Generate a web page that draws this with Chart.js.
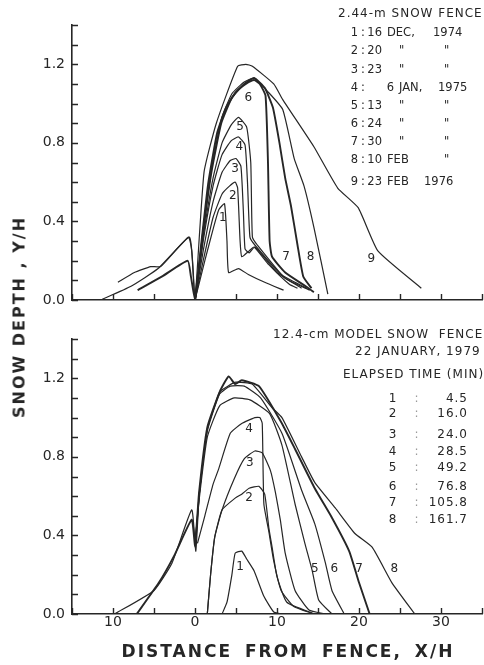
<!DOCTYPE html>
<html>
<head>
<meta charset="utf-8">
<script src="https://cdn.jsdelivr.net/npm/chart.js@4.4.1/dist/chart.umd.min.js"></script>
<style>
html, body { margin: 0; padding: 0; background: #fff; }
#page { position: relative; width: 484px; height: 665px; overflow: hidden; background: #fff; }
canvas { position: absolute; left: 0; }
#cTop { top: 0; }
#cBot { top: 320px; }
#ytitle { position: absolute; left: 19px; top: 317px; transform: translate(-50%, -50%) rotate(-90deg);
  font: bold 16px "DejaVu Sans"; letter-spacing: 2px; color: #262626; white-space: nowrap; }
#xtitle { position: absolute; left: 288px; top: 651px; transform: translate(-50%, -50%);
  font: bold 17px "DejaVu Sans"; letter-spacing: 2px; word-spacing: 5px; color: #262626; white-space: nowrap; }
</style>
</head>
<body>
<div id="page">
  <canvas id="cTop" width="484" height="320"></canvas>
  <canvas id="cBot" width="484" height="345"></canvas>
  <div id="ytitle">SNOW DEPTH , Y/H</div>
  <div id="xtitle">DISTANCE FROM FENCE, X/H</div>
</div>
<script>
// ---- données : [X/H, Y/H] ----
// 2.44-m snow fence (panneau du haut)
const top1 = [[0,0],[1.2,0.2],[2.2,0.36],[2.9,0.46],[3.6,0.49],[3.9,0.3],[4.1,0.14],[5.3,0.16],[6.5,0.13],[8.5,0.09],[10.8,0.05]];
const top2 = [[0,0],[1,0.2],[2.2,0.42],[3.3,0.54],[4.2,0.58],[4.9,0.6],[5.2,0.57],[5.5,0.3],[5.7,0.22],[6.6,0.25],[7.2,0.27],[9,0.18],[11.5,0.08],[12.5,0.06]];
const top3 = [[0,0],[1,0.25],[2.2,0.5],[3.3,0.65],[4.3,0.71],[5.0,0.72],[5.6,0.68],[5.9,0.45],[6.1,0.26],[6.6,0.24],[7.3,0.27],[10,0.14],[13,0.06]];
const top4 = [[0,0],[1,0.3],[2.2,0.58],[3.3,0.74],[4.4,0.81],[5.3,0.83],[6.1,0.79],[6.4,0.6],[6.7,0.32],[7.3,0.28],[10.5,0.13],[13.6,0.06]];
const top5 = [[0,0],[1,0.32],[2.2,0.62],[3.3,0.8],[4.4,0.89],[5.3,0.93],[6.3,0.88],[6.8,0.7],[7.0,0.32],[7.6,0.28],[11,0.11],[14,0.05]];
const top6 = [[0,0],[0.8,0.3],[1.6,0.59],[2.7,0.85],[3.8,0.98],[5,1.06],[6.2,1.1],[7.2,1.12],[7.9,1.1],[8.6,1.04],[8.9,0.7],[9.1,0.3],[9.4,0.22],[11,0.14],[13.5,0.07],[14.5,0.04]];
const top7 = [[-7,0.05],[-4,0.12],[-0.9,0.2],[-0.5,0.12],[0,0],[1,0.35],[2,0.65],[3.2,0.9],[4.5,1.03],[6,1.1],[7.2,1.13],[8.5,1.08],[9.5,0.98],[10.3,0.8],[11,0.62],[11.7,0.48],[12.5,0.28],[13.2,0.12],[14.2,0.06]];
const top8 = [[-9.4,0.09],[-7.4,0.14],[-5.4,0.17],[-4.2,0.17],[-0.8,0.32],[-0.4,0.25],[0,0],[1,0.36],[2,0.66],[3.2,0.92],[4.5,1.05],[6,1.11],[7.2,1.13],[8.9,1.06],[10.7,0.97],[12.1,0.72],[13.3,0.58],[14.5,0.37],[16.2,0.03]];
const top9 = [[-11.5,0],[-7.8,0.07],[-4.5,0.16],[-0.7,0.32],[-0.3,0.2],[0,0],[1.1,0.65],[2.6,0.9],[5.2,1.19],[6.2,1.2],[7,1.19],[9.6,1.1],[10.7,1.02],[14.5,0.78],[17.4,0.57],[19.9,0.47],[22.3,0.25],[27.6,0.06]];

// 12.4-cm model snow fence (panneau du bas)
const bot1 = [[3.3,0],[3.9,0.06],[4.5,0.2],[4.9,0.31],[5.7,0.32],[6.3,0.28],[7.2,0.22],[8.4,0.09],[9.6,0.01],[10.5,0]];
const bot2 = [[1.5,0],[1.9,0.2],[2.4,0.39],[3.3,0.53],[4.9,0.59],[5.7,0.61],[6.6,0.64],[7.8,0.65],[8.5,0.61],[9,0.44],[9.4,0.34],[10,0.19],[11.2,0.06],[14.6,0]];
const bot3 = [[1.5,0],[1.9,0.2],[2.4,0.39],[3.3,0.53],[4.8,0.69],[6,0.79],[7.3,0.83],[8.2,0.82],[9.2,0.73],[9.8,0.62],[10.4,0.48],[11,0.31],[12.2,0.12],[13.9,0.02],[15.9,0]];
const bot4 = [[0.3,0.36],[1.2,0.5],[2.2,0.66],[2.9,0.74],[4.3,0.92],[5.7,0.97],[7.3,1.0],[7.9,1.0],[8.2,0.97],[8.4,0.56],[9,0.42],[9.6,0.27],[10.5,0.12],[12,0.04],[14.5,0]];
const bot5 = [[0,0.36],[0.5,0.58],[1.5,0.9],[3,1.06],[4.8,1.1],[6.7,1.09],[9.1,1.02],[10.6,0.86],[12.2,0.56],[13.4,0.36],[14.3,0.22],[15.1,0.07],[16.7,0]];
const bot6 = [[0,0.34],[0.5,0.6],[1.5,0.93],[3,1.12],[4.3,1.16],[6,1.16],[8,1.1],[10.6,0.92],[13,0.63],[14.6,0.46],[15.9,0.26],[16.7,0.12],[18.2,0]];
const bot7 = [[-7.1,0],[-4.4,0.16],[-2.5,0.3],[-0.4,0.48],[0,0.35],[0.5,0.62],[1.5,0.95],[3,1.13],[4.1,1.21],[4.9,1.17],[5.7,1.19],[7.8,1.16],[10.6,0.97],[12.2,0.84],[14.6,0.64],[16.7,0.49],[18.8,0.32],[20,0.16],[21.3,0]];
const bot8 = [[-9.8,0],[-5,0.12],[-2.8,0.26],[-0.4,0.53],[0.1,0.32],[0.5,0.6],[1.5,0.94],[3,1.13],[4,1.16],[5,1.18],[7,1.17],[9.4,1.05],[10.6,1.0],[13,0.8],[14.6,0.67],[17.1,0.54],[19.5,0.41],[21.6,0.34],[24,0.16],[26.8,0]];

// numéros des courbes et leur position (X/H, Y/H)
const topCurveNames = ['1','2','3','4','5','6','7','8','9'];
const topNameX = [3.4,4.6,4.9,5.4,5.5,6.5,11.1,14.1,21.5];
const topNameY = [0.42,0.53,0.67,0.78,0.88,1.03,0.22,0.22,0.21];
const botCurveNames = ['1','2','3','4','5','6','7','8'];
const botNameX = [5.5,6.6,6.7,6.6,14.6,17,20,24.3];
const botNameY = [0.24,0.59,0.77,0.94,0.23,0.23,0.23,0.23];

// axes
const xMin = -15, xMax = 35, xStep = 5;
const yMin = 0, yMax = 1.4, yStep = 0.1;
const xTickLabels = {'-10':'10', '0':'0', '10':'10', '20':'20', '30':'30'};
const yTickLabels = {'0':'0.0', '4':'0.4', '8':'0.8', '12':'1.2'};

// légendes
const topTitle = '2.44-m SNOW FENCE';
const topDays = ['16','20','23','6','13','24','30','10','23'];
const topMonths = ['DEC,','"','"','JAN,','"','"','"','FEB','FEB'];
const topYears = ['1974','"','"','1975','"','"','"','"','1976'];
const botTitle = ['12.4-cm MODEL SNOW  FENCE', '22 JANUARY, 1979', 'ELAPSED TIME (MIN)'];
const botTimes = ['4.5','16.0','24.0','28.5','49.2','76.8','105.8','161.7'];

const ink = '#262626';
const font = '"DejaVu Sans", sans-serif';

// ---- plugin : graduations vers l'intérieur + textes ----
const annot = {
    id: 'annot',
    afterDraw(chart, args, opts) {
        const ctx = chart.ctx, xs = chart.scales.x, ys = chart.scales.y, a = chart.chartArea;
        ctx.save();
        ctx.strokeStyle = ink;
        ctx.lineWidth = 1.4;
        ctx.beginPath();
        xs.ticks.forEach(t => {
            const px = Math.round(xs.getPixelForValue(t.value)) + 0.5;
            ctx.moveTo(px, a.bottom);
            ctx.lineTo(px, a.bottom - 6);
        });
        ys.ticks.forEach(t => {
            const py = Math.round(ys.getPixelForValue(t.value)) + 0.5;
            ctx.moveTo(a.left, py);
            ctx.lineTo(a.left + 6, py);
        });
        ctx.stroke();

        // numéros des courbes
        ctx.fillStyle = ink;
        ctx.font = '12px ' + font;
        ctx.textAlign = 'center';
        ctx.textBaseline = 'middle';
        opts.names.forEach((n, i) => {
            ctx.fillText(n, xs.getPixelForValue(opts.nx[i]), ys.getPixelForValue(opts.ny[i]));
        });
        opts.legend(ctx);
        ctx.restore();
    }
};

function toXY(arr) {
    return arr.map(p => ({x: p[0], y: p[1]}));
}

function buildChart(id, series, heavy, names, nx, ny, padTop, xHeight, showX, legend) {
    const datasets = series.map((s, i) => ({
        data: toXY(s),
        borderColor: ink,
        borderWidth: heavy.includes(i) ? 1.9 : 1.2,
        pointRadius: 0,
        tension: 0.15,
        fill: false
    }));
    return new Chart(document.getElementById(id), {
        type: 'line',
        data: {datasets: datasets},
        plugins: [annot],
        options: {
            responsive: false,
            animation: false,
            layout: {padding: {top: padTop, right: 2, left: 0, bottom: 0}},
            plugins: {
                legend: {display: false},
                tooltip: {enabled: false},
                annot: {names: names, nx: nx, ny: ny, legend: legend}
            },
            scales: {
                x: {
                    type: 'linear', min: xMin, max: xMax,
                    afterFit: s => { s.height = xHeight; },
                    grid: {display: false, drawTicks: false},
                    border: {display: true, color: ink, width: 1.6},
                    ticks: {
                        display: showX, stepSize: xStep, autoSkip: false, maxRotation: 0,
                        padding: 0, color: ink, font: {family: font, size: 14},
                        callback: v => xTickLabels[String(Math.round(v))] || ''
                    }
                },
                y: {
                    type: 'linear', min: yMin, max: yMax,
                    afterFit: s => { s.width = 72; },
                    grid: {display: false, drawTicks: false},
                    border: {display: true, color: ink, width: 1.6},
                    ticks: {
                        stepSize: yStep, autoSkip: false, padding: 7, color: ink,
                        font: {family: font, size: 14},
                        callback: v => yTickLabels[String(Math.round(v * 10))] || ''
                    }
                }
            }
        }
    });
}

function legendTop(ctx) {
    ctx.font = '12px ' + font;
    ctx.textAlign = 'left';
    ctx.textBaseline = 'middle';
    ctx.letterSpacing = '1px';
    ctx.fillText(topTitle, 338, 14);
    ctx.font = '11.5px ' + font;
    ctx.letterSpacing = '0px';
    const rowY = [33, 51, 70, 88, 106, 124, 142, 160, 182];
    topDays.forEach((d, i) => {
        const y = rowY[i];
        ctx.textAlign = 'right';
        ctx.fillText(String(i + 1), 358, y);
        ctx.textAlign = 'left';
        ctx.fillText(':', 361, y);
        ctx.textAlign = 'right';
        ctx.fillText(d, i === 3 ? 394 : 382, y);
        ctx.textAlign = 'left';
        const m = topMonths[i], yr = topYears[i];
        if (m === '"') ctx.fillText(m, 399, y);
        else ctx.fillText(m, i === 3 ? 399 : 387, y);
        if (yr === '"') ctx.fillText(yr, 444, y);
        else ctx.fillText(yr, i === 3 ? 438 : (i === 8 ? 424 : 433), y);
    });
}

function legendBot(ctx) {
    ctx.font = '12px ' + font;
    ctx.textAlign = 'left';
    ctx.textBaseline = 'middle';
    ctx.letterSpacing = '1px';
    ctx.fillText(botTitle[0], 273, 15);
    ctx.fillText(botTitle[1], 355, 32);
    ctx.fillText(botTitle[2], 343, 55);
    const rowY = [79, 94, 115, 132, 148, 167, 183, 200];
    botTimes.forEach((t, i) => {
        const y = rowY[i];
        ctx.textAlign = 'center';
        ctx.fillText(String(i + 1), 393, y);
        ctx.fillStyle = '#9a9a9a';
        ctx.fillText(':', 417, y);
        ctx.fillStyle = ink;
        ctx.textAlign = 'right';
        ctx.fillText(t, 468, y);
    });
    ctx.letterSpacing = '0px';
}

buildChart('cTop', [top1, top2, top3, top4, top5, top6, top7, top8, top9], [5, 6],
    topCurveNames, topNameX, topNameY, 25, 20, false, legendTop);
buildChart('cBot', [bot1, bot2, bot3, bot4, bot5, bot6, bot7, bot8], [6],
    botCurveNames, botNameX, botNameY, 19, 51, true, legendBot);
</script>
</body>
</html>
